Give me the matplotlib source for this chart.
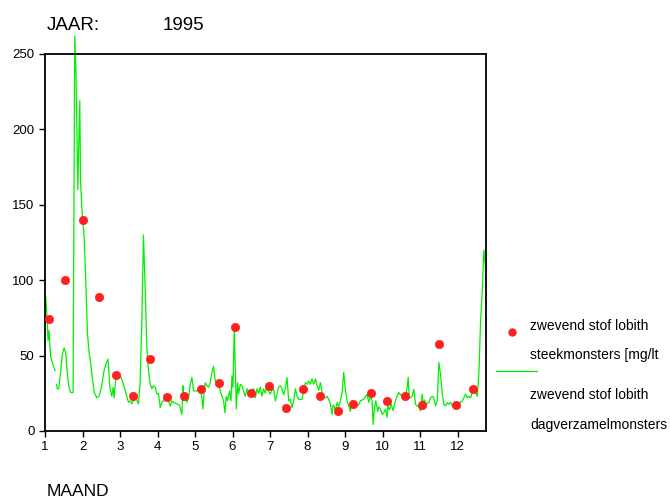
import numpy as np
import matplotlib.pyplot as plt
from matplotlib.lines import Line2D

plt.rcParams['font.family'] = ['Liberation Sans', 'DejaVu Sans']

# steekmonsters (red dots), x in months
steek_maand = [1.10, 1.53, 2.01, 2.44, 2.90, 3.35, 3.80, 4.26, 4.71, 5.17, 5.65,
               6.07, 6.50, 6.98, 7.43, 7.89, 8.34, 8.80, 9.22, 9.70, 10.13,
               10.59, 11.04, 11.50, 11.95, 12.40]
steek_waarde = [74.5, 100, 140, 89, 37, 23, 48, 22.5, 23, 28, 32,
                69, 25, 30, 15, 28, 23, 13, 18, 25, 20,
                23, 17, 58, 17, 28]

# dagverzamelmonsters (green line); nan = missing days
dag_maand = [1.019, 1.061, 1.080, 1.107, 1.134, 1.152, 1.195, 1.240, 1.267, 1.285,
             1.302, 1.328, 1.366, 1.419, 1.462, 1.507, 1.553, 1.595, 1.641, 1.686,
             1.748, 1.793, 1.828, 1.873, 1.927, 1.948, 1.996, 2.041, 2.087, 2.129,
             2.175, 2.220, 2.263, 2.308, 2.380, 2.442, 2.503, 2.575, 2.621, 2.682,
             2.728, 2.781, 2.816, 2.842, 2.888, 2.949, 3.021, 3.091, 3.182, 3.224,
             3.270, 3.315, 3.403, 3.491, 3.537, 3.582, 3.625, 3.670, 3.716, 3.758,
             3.804, 3.849, 3.892, 3.937, 3.983, 4.025, 4.071, 4.116, 4.159, 4.250,
             4.292, 4.338, 4.383, 4.426, 4.517, 4.586, 4.650, 4.677, 4.693, 4.738,
             4.784, 4.826, 4.872, 4.917, 4.960, 5.051, 5.139, 5.184, 5.211, 5.246,
             5.272, 5.318, 5.361, 5.406, 5.451, 5.494, 5.539, 5.585, 5.628, 5.673,
             5.718, 5.761, 5.798, 5.833, 5.868, 5.921, 5.959, 5.985, 6.012, 6.047,
             6.073, 6.100, 6.135, 6.162, 6.207, 6.252, 6.295, 6.340, 6.386, 6.429,
             6.474, 6.519, 6.562, 6.607, 6.653, 6.696, 6.741, 6.786, 6.829, 6.874,
             6.920, 6.963, 7.008, 7.053, 7.096, 7.142, 7.187, 7.230, 7.275, 7.321,
             7.363, 7.409, 7.454, 7.497, 7.542, 7.587, 7.630, 7.676, 7.721, 7.764,
             7.854, 7.897, 7.943, 7.988, 8.031, 8.076, 8.121, 8.164, 8.210, 8.255,
             8.298, 8.343, 8.388, 8.431, 8.477, 8.522, 8.565, 8.610, 8.655, 8.682,
             8.717, 8.744, 8.789, 8.832, 8.877, 8.922, 8.965, 9.011, 9.056, 9.099,
             9.144, 9.190, 9.232, 9.278, 9.323, 9.366, 9.411, 9.499, 9.590, 9.633,
             9.678, 9.723, 9.750, 9.785, 9.820, 9.873, 9.900, 9.945, 9.991, 10.033,
             10.079, 10.124, 10.140, 10.186, 10.231, 10.284, 10.319, 10.372, 10.434, 10.479,
             10.525, 10.567, 10.613, 10.658, 10.685, 10.711, 10.746, 10.792, 10.834, 10.880,
             10.925, 10.968, 11.013, 11.059, 11.085, 11.120, 11.173, 11.235, 11.280, 11.326,
             11.368, 11.414, 11.459, 11.502, 11.547, 11.593, 11.636, 11.681, 11.726, 11.769,
             11.814, 11.860, 11.902, 11.948, 11.993, 12.036, 12.081, 12.127, 12.169, 12.214,
             12.260, 12.303, 12.348, 12.394, 12.436, 12.481, 12.526, 12.569, 12.615, 12.660,
             12.703, 12.748]
dag_waarde = [88.6, 73, 60, 66.5, 55, 49, 45.4, 42, 40, np.nan,
              31, 28, 28, 40, 51, 55, 52, 37.7, 29, 25.5,
              25.5, 262, 235, 160, 219, 165, 142, 130, 100, 66,
              52, 44.5, 35, 26, 22, 23, 29, 40, 44.3, 47.7,
              29, 23, 29, 22, 35.5, 36.6, 36, 31, 23, 19,
              20, 18, 23, 18, 33, 73, 130, 95, 55, 40,
              31, 28, 30, 29, 24.5, 25, 15.5, 19, 20, 24.5,
              20, 16.6, 20, 19, 18, 17, 11, 30, 20, 23,
              19, 22, 31, 35.5, 26.6, 26.6, 28, 22, 14.6, 26.6,
              32, 30, 29, 32, 38.8, 43, 33, 32, 31, 26.6,
              23, 20, 12, 23, 20, 26.6, 20, 36.6, 29, 68.7,
              42, 14.6, 32, 24.5, 31, 30, 26.6, 23, 28, 26,
              23, 26, 28, 22, 28, 25, 29, 23, 28, 25,
              30, 26, 24.5, 27, 28, 20, 24.5, 29, 30, 28,
              24, 28, 35.5, 20, 21, 15.5, 20, 28, 23, 21,
              21, 26.6, 32, 31, 33, 31, 34.6, 31, 34.6, 30,
              27, 32, 25.5, 22, 22, 23, 21, 18, 11, 17,
              16, 13, 19, 16, 20, 25.5, 39, 26.6, 20, 16.6,
              13, 20, 16.6, 18, 16.6, 17.5, 20, 21, 24.4, 19,
              23, 20, 4.4, 15.5, 20, 13, 16, 14.4, 11, 12,
              14.4, 9, 16.6, 14, 17.7, 13.5, 17.7, 22, 25.5, 24,
              23, 24, 22, 29, 35.5, 22, 22, 23, 27.7, 17.7,
              16.6, 16, 13.3, 24.4, 17.7, 20.5, 17.7, 18.8, 22, 23,
              22, 16.6, 20, 45.4, 37.7, 24.4, 17.7, 16.6, 18.8, 17.7,
              19, 16.6, 17.7, 19, 17.7, 18.8, 19, 20, 22, 24.4,
              22, 23, 22, 25.5, 29, 25.5, 23, 37.7, 73, 93,
              120, 108.5]

maanden = list(range(1, 13))
y_ticks = [0, 50, 100, 150, 200, 250]

fig = plt.figure(figsize=(6.70, 4.99), dpi=100)
ax = fig.add_axes([0.0672, 0.1363, 0.6582, 0.7555])

ax.plot(dag_maand, dag_waarde, color='#00f000', linewidth=0.9, clip_on=False, zorder=2)
ax.plot(steek_maand, steek_waarde, linestyle='none', marker='o', markersize=6,
        markerfacecolor='#ff2020', markeredgecolor='#ff2020', markeredgewidth=0.5,
        clip_on=False, zorder=3)

ax.set_xlim(1, 12.76)
ax.set_ylim(0, 250)
ax.set_xticks(maanden)
ax.set_yticks(y_ticks)
ax.tick_params(direction='out', length=4, width=1, labelsize=9.5, colors='black')
for s in ax.spines.values():
    s.set_linewidth(1.3)

fig.text(0.070, 0.94, 'JAAR:', fontsize=13.5, va='baseline')
fig.text(0.243, 0.94, '1995', fontsize=13.5, va='baseline')
fig.text(0.070, 0.006, 'MAAND', fontsize=12.5, va='baseline')

# legend drawn at the right side
fig.add_artist(Line2D([512 / 670], [1 - 332 / 499], transform=fig.transFigure,
                      marker='o', markersize=5, color='#ff2020', linestyle='none'))
fig.add_artist(Line2D([496 / 670, 537 / 670], [1 - 371 / 499, 1 - 371 / 499],
                      transform=fig.transFigure, color='#00f000', linewidth=0.9))
leg_text = ['zwevend stof lobith', 'steekmonsters [mg/lt',
            'zwevend stof lobith', 'dagverzamelmonsters']
leg_y = [326, 355, 395, 425]
for t, yy in zip(leg_text, leg_y):
    fig.text(530 / 670, 1 - yy / 499, t, fontsize=10, va='center')

plt.savefig('out.png')
